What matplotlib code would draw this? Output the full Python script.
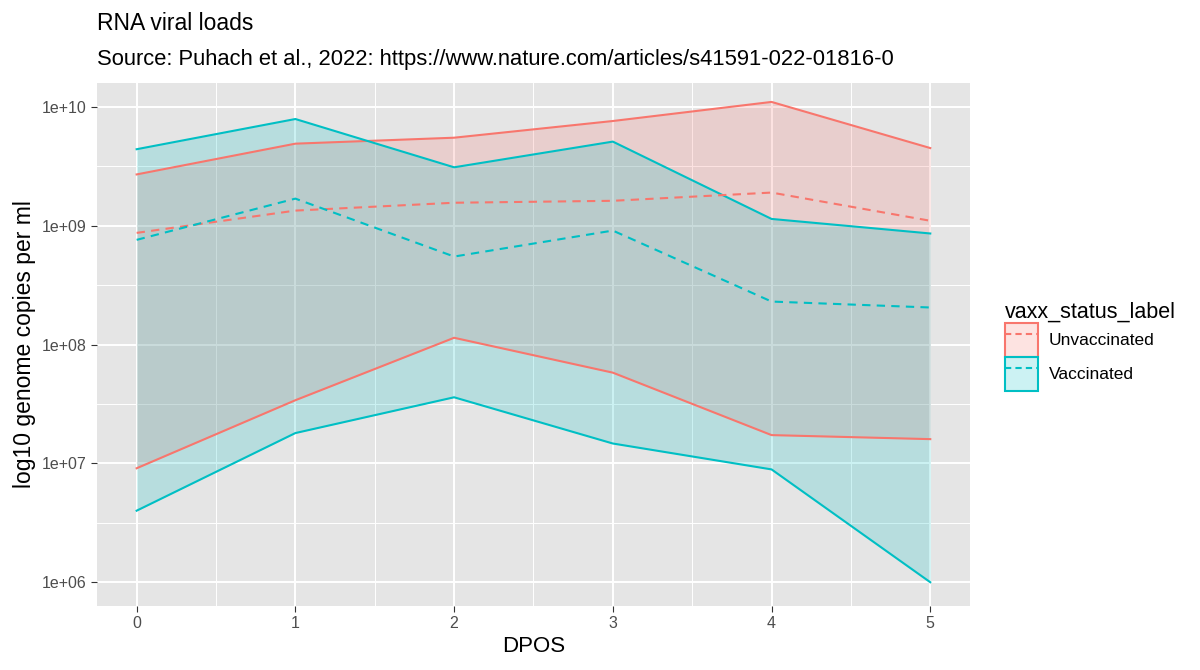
import matplotlib
matplotlib.use("Agg")
import matplotlib.pyplot as plt
from matplotlib.lines import Line2D
from matplotlib.patches import Patch
from matplotlib.legend_handler import HandlerTuple

# data
dpos = [0, 1, 2, 3, 4, 5]
unvax_max = [2.7e9, 4.9e9, 5.5e9, 7.6e9, 1.1e10, 4.5e9]
unvax_med = [8.7e8, 1.34e9, 1.56e9, 1.62e9, 1.9e9, 1.1e9]
unvax_min = [9.1e6, 3.4e7, 1.14e8, 5.8e7, 1.73e7, 1.6e7]
vax_max = [4.4e9, 7.9e9, 3.1e9, 5.1e9, 1.14e9, 8.6e8]
vax_med = [7.6e8, 1.69e9, 5.5e8, 9.1e8, 2.3e8, 2.05e8]
vax_min = [4.0e6, 1.8e7, 3.6e7, 1.47e7, 8.9e6, 1.0e6]
labels = ["Unvaccinated", "Vaccinated"]
colors = ["#F8766D", "#00BFC4"]

plt.rcParams['font.family'] = ['Liberation Sans', 'DejaVu Sans']

fig = plt.figure(figsize=(12, 6.7), dpi=100)
ax = fig.add_axes([0.0808, 0.0955, 0.7275, 0.7805])
ax.set_facecolor("#E5E5E5")

series = [(unvax_min, unvax_med, unvax_max), (vax_min, vax_med, vax_max)]
for (lo, med, hi), c in zip(series, colors):
    ax.fill_between(dpos, lo, hi, color=c, alpha=0.2, lw=0)
    ax.plot(dpos, hi, color=c, lw=1.5)
    ax.plot(dpos, lo, color=c, lw=1.5)
for (lo, med, hi), c in zip(series, colors):
    ax.plot(dpos, med, color=c, lw=1.5, ls=(0, (4, 3)))

ax.set_yscale("log")
ax.set_yticks([1e6, 1e7, 1e8, 1e9, 1e10])
ax.set_yticklabels(["1e+06", "1e+07", "1e+08", "1e+09", "1e+10"])
ax.set_yticks([10**6.5, 10**7.5, 10**8.5, 10**9.5], minor=True)
ax.yaxis.set_minor_formatter(plt.NullFormatter())
ax.set_xticks(dpos)
ax.set_xticks([0.5, 1.5, 2.5, 3.5, 4.5], minor=True)
ax.set_ylim(10**5.8, 10**10.2)
ax.set_xlim(-0.25, 5.25)
ax.grid(which="major", color="white", lw=1.4)
ax.grid(which="minor", color="white", lw=0.7)
ax.set_axisbelow(True)
for s in ax.spines.values():
    s.set_visible(False)
ax.tick_params(which="major", color="#333333", length=4, labelsize=11.5, labelcolor="#4D4D4D")
ax.tick_params(which="minor", length=0)

ax.set_xlabel("DPOS", fontsize=16, labelpad=3)
ax.set_ylabel("log10 genome copies per ml", fontsize=16.5)
fig.text(0.0808, 0.955, "RNA viral loads", fontsize=16.5, va="baseline")
fig.text(0.0808, 0.903, "Source: Puhach et al., 2022: https://www.nature.com/articles/s41591-022-01816-0",
         fontsize=15.8, va="baseline")

handles = []
for c in colors:
    handles.append((Patch(facecolor=c, alpha=0.2, edgecolor="none"),
                    Patch(facecolor="none", edgecolor=c, lw=1.5),
                    Line2D([], [], color=c, lw=1.5, ls=(0, (3, 2)))))
leg = fig.legend(handles, labels, title="vaxx_status_label", loc="center left",
                 bbox_to_anchor=(0.832, 0.483), frameon=False, fontsize=12.5,
                 title_fontsize=15.5, handlelength=1.9, handleheight=2.64,
                 handler_map={tuple: HandlerTuple(ndivide=1)},
                 labelspacing=0.0, borderaxespad=0, handletextpad=0.6)
leg._legend_box.align = "left"

fig.savefig("out.png", dpi=100)
